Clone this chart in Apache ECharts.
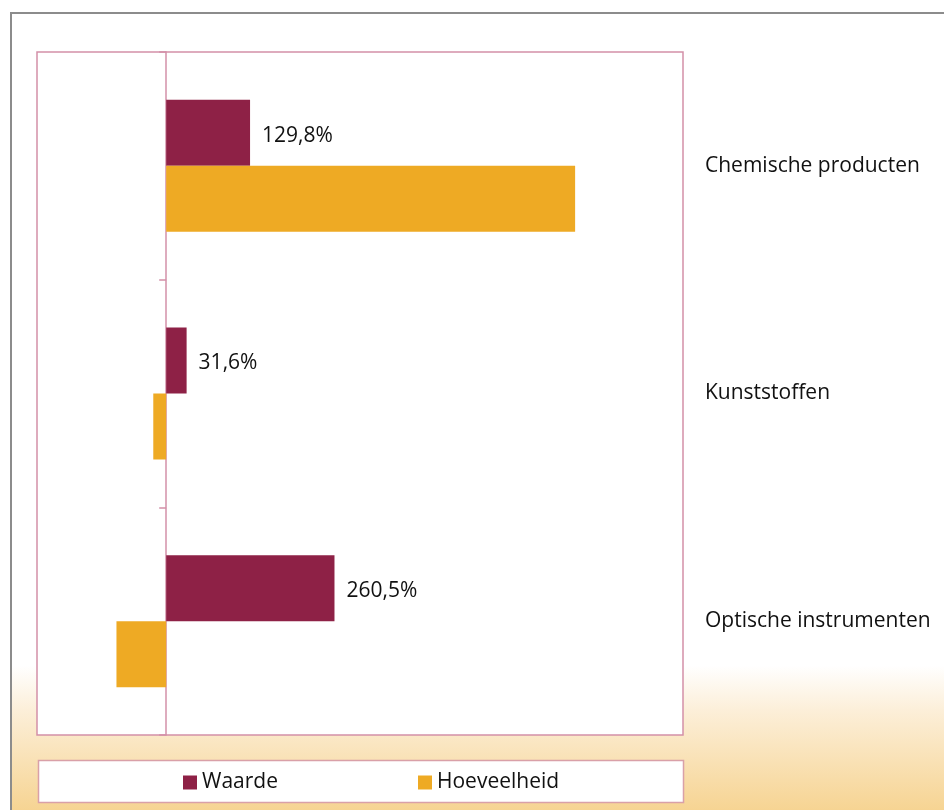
<!DOCTYPE html>
<html>
<head>
<meta charset="utf-8">
<script src="https://cdn.jsdelivr.net/npm/echarts@6/dist/echarts.min.js"></script>
<style>
  html, body { margin: 0; padding: 0; background: #fff; }
  #main { width: 944px; height: 810px; }
</style>
</head>
<body>
<div id="main"></div>
<script>
// categories, top to bottom
var categories = ['Chemische producten', 'Kunststoffen', 'Optische instrumenten'];
// Waarde (%), labelled in the chart
var waarde = [129.8, 31.6, 260.5];
// Hoeveelheid (%), not labelled
var hoeveelheid = [633, -20, -77];

var fontName = '"Open Sans", "Noto Sans", sans-serif';

function legendAt(x, name) {
	return {
		left: x,
		top: 767,
		itemWidth: 14,
		itemHeight: 14,
		itemGap: 6,
		icon: 'rect',
		textStyle: { fontSize: 21, color: '#111', fontFamily: fontName },
		data: [name]
	};
}

var myChart = echarts.init(document.getElementById('main'));
myChart.setOption({
	animation: false,
	backgroundColor: '#fff',
	textStyle: { fontFamily: fontName },
	graphic: [{
		// frame and the soft orange fade at the bottom
		type: 'rect',
		z: -10,
		shape: { x: 11, y: 13, width: 940, height: 800 },
		style: {
			fill: {
				type: 'linear', x: 0, y: 0, x2: 0, y2: 1,
				colorStops: [
					{ offset: 0, color: '#ffffff' },
					{ offset: 0.815, color: '#ffffff' },
					{ offset: 0.87, color: '#fcefd9' },
					{ offset: 1, color: '#f6d390' }
				]
			},
			stroke: '#8c8c8c',
			lineWidth: 2
		}
	}, {
		// legend box
		type: 'rect',
		z: -5,
		shape: { x: 38.5, y: 760.5, width: 645, height: 42 },
		style: { fill: '#fff', stroke: '#d9a0a8', lineWidth: 1.5 }
	}],
	grid: {
		left: 37,
		top: 52,
		right: 261,
		bottom: 75,
		show: true,
		backgroundColor: '#fff',
		borderColor: '#d390a8',
		borderWidth: 1.5
	},
	legend: [legendAt(178, 'Waarde'), legendAt(413, 'Hoeveelheid')],
	xAxis: {
		type: 'value',
		min: -200,
		max: 800,
		show: false
	},
	yAxis: [{
		type: 'category',
		inverse: true,
		data: categories,
		axisLine: { onZero: true, lineStyle: { color: '#d390a8', width: 1.5 } },
		axisTick: { show: true, length: 7, lineStyle: { color: '#d390a8', width: 1.5 } },
		axisLabel: { show: false }
	}, {
		type: 'category',
		inverse: true,
		position: 'right',
		data: categories,
		axisLine: { show: false },
		axisTick: { show: false },
		axisLabel: { margin: 22, fontSize: 21, color: '#111', fontFamily: fontName, padding: [3, 0, 0, 0] }
	}],
	series: [{
		name: 'Waarde',
		type: 'bar',
		yAxisIndex: 0,
		barWidth: 66,
		barGap: '0%',
		itemStyle: { color: '#8e2146' },
		label: {
			show: true,
			position: 'right',
			distance: 12,
			offset: [0, 3],
			fontSize: 21,
			color: '#111',
			fontFamily: fontName,
			formatter: function (p) {
				return p.value.toFixed(1).replace('.', ',') + '%';
			}
		},
		data: waarde
	}, {
		name: 'Hoeveelheid',
		type: 'bar',
		yAxisIndex: 0,
		barWidth: 66,
		barGap: '0%',
		itemStyle: { color: '#eeaa24' },
		data: hoeveelheid
	}]
});
</script>
</body>
</html>
